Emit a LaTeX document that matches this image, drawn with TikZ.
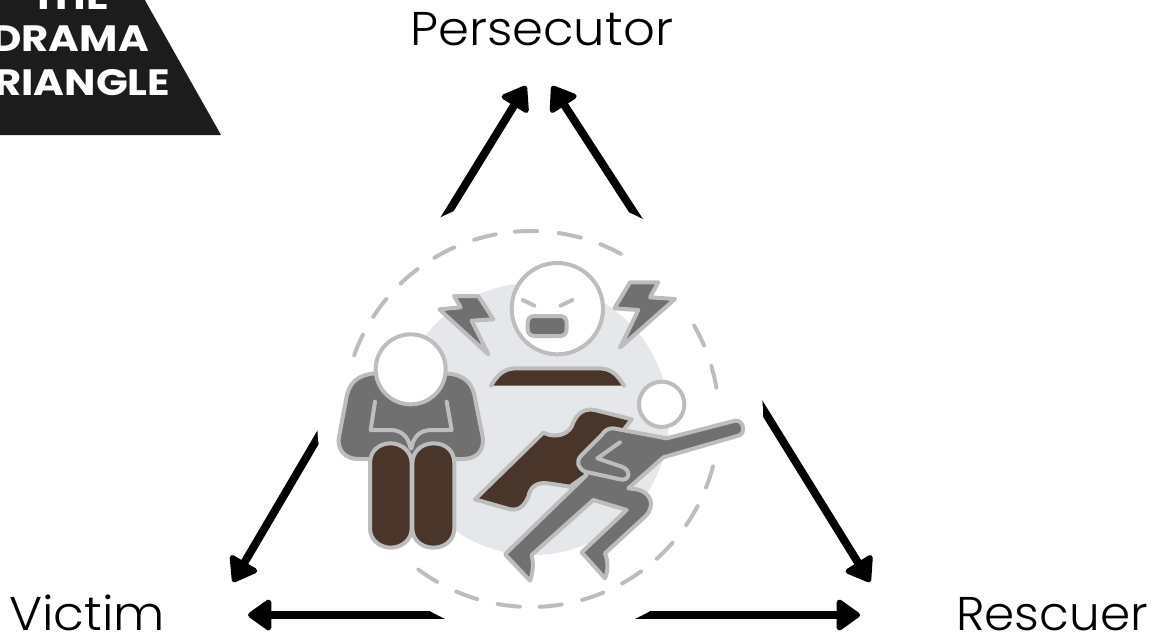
\documentclass[tikz,border=0pt]{standalone}
\usepackage{fontspec}
\setmainfont{Poppins}[UprightFont=* Light,BoldFont=* Bold]
\usetikzlibrary{arrows.meta}
\definecolor{edgegrey}{HTML}{BDBDBD}
\definecolor{bodygrey}{HTML}{707070}
\definecolor{capebrown}{HTML}{4A352B}
\definecolor{discgrey}{HTML}{E6E7EB}
\definecolor{bannerblack}{HTML}{1C1C1C}
\tikzset{
  flow/.style={line width=6pt,black,-{Triangle[length=19pt,width=26pt,round,line width=4pt]}},
  part/.style={draw=edgegrey,line width=3pt,line join=round,line cap=round},
  figbody/.style={part,fill=bodygrey},
  figbrown/.style={part,fill=capebrown},
  head/.style={part,fill=white},
  inner/.style={draw=edgegrey,line width=3pt,line join=round,line cap=round},
  rolelabel/.style={font=\fontsize{35.5}{35.5}\selectfont,text=black,inner sep=0pt,anchor=base west},
  bannerlabel/.style={font=\fontsize{27.5}{27.5}\bfseries\selectfont,text=white,inner sep=0pt,anchor=base,xscale=1.14}
}
\begin{document}
\begin{tikzpicture}[x=0.75pt,y=-0.75pt]
\useasboundingbox (0,0) rectangle (1156,635);
\clip (0,0) rectangle (1156,635);
% banner
\fill[bannerblack] (0,-5) -- (142,-5) -- (221,135) -- (0,135) -- cycle;
\node[bannerlabel] (the) at (70,10) {THE};
\node[bannerlabel] (drama) at (70,52) {DRAMA};
\node[bannerlabel] (triangle) at (70,95) {TRIANGLE};
% labels
\node[rolelabel,xscale=1.05] (persecutor) at (410,46) {Persecutor};
\node[rolelabel,xscale=1.06] (victim) at (9,630) {Victim};
\node[rolelabel,xscale=1.025] (rescuer) at (956,630) {Rescuer};
% connector ends
\coordinate (hub) at (540,417);
\coordinate (pl) at (526,86);
\coordinate (pr) at (552,86);
\coordinate (vt) at (233,582);
\coordinate (rt) at (870,582);
\coordinate (vb) at (248,615);
\coordinate (rb) at (860,615);
\coordinate (pls) at (430,242);
\coordinate (prs) at (655,245);
\coordinate (vts) at (340,400);
\coordinate (rts) at (745,380);
\coordinate (b1) at (470,615);
\coordinate (b2) at (610,615);
\draw[flow] (pls) -- (pl);
\draw[flow] (prs) -- (pr);
\draw[flow] (vts) -- (vt);
\draw[flow] (rts) -- (rt);
\draw[flow] (b1) -- (vb);
\draw[flow] (b2) -- (rb);
\fill[white] (hub) circle (223);
% disc and dashed ring
\fill[discgrey] (533,419) circle (136);
\foreach \a in {203.2,216.3,229.5,242.5,255.8,268.5,281.9,295.1,333.6,347,18,31,44.6,57.6,70.8,84,96.8,110,123.4}
  \draw[edgegrey,line width=3pt,line cap=round] (531,419) ++(\a-3.4:188) arc[start angle=\a-3.4,end angle=\a+3.4,radius=188];
% victim
\begin{scope}[shift={(320,220)},x=0.25pt,y=-0.25pt]
\draw[figbody] (165,460) .. controls (110,465) and (85,490) .. (78,540) -- (57,650) .. controls (50,695) and (80,717) .. (115,717) -- (430,717) .. controls (465,717) and (495,695) .. (488,650) -- (466,540) .. controls (460,490) and (435,465) .. (380,460) -- cycle;
\draw[inner] (165,545) -- (152,630) -- (210,630) .. controls (245,630) and (265,650) .. (272,685);
\draw[inner] (380,545) -- (395,630) -- (335,630) .. controls (300,630) and (280,650) .. (274,685);
\draw[figbrown] (150,730) .. controls (150,690) and (180,670) .. (212,670) .. controls (245,670) and (275,695) .. (275,730) -- (275,925) .. controls (275,960) and (245,983) .. (212,983) .. controls (180,983) and (150,960) .. (150,925) -- cycle;
\draw[figbrown] (277,730) .. controls (277,695) and (305,670) .. (340,670) .. controls (375,670) and (403,690) .. (403,730) -- (403,925) .. controls (403,960) and (375,983) .. (340,983) .. controls (305,983) and (277,960) .. (277,925) -- cycle;
\draw[head] (272,448) circle (105);
\end{scope}
% angry figure
\begin{scope}[shift={(430,220)},x=0.25pt,y=-0.25pt]
\draw[head] (382,266) circle (137);
\draw[inner] (278,240) -- (313,257);
\draw[inner] (427,240) -- (392,257);
\draw[figbody] (293,310) .. controls (293,295) and (300,288) .. (315,288) -- (388,288) .. controls (403,288) and (410,295) .. (410,310) -- (410,326) .. controls (410,341) and (403,348) .. (388,348) -- (315,348) .. controls (300,348) and (293,341) .. (293,326) -- cycle;
\draw[figbody] (72,228) -- (145,228) -- (190,298) -- (125,302) -- (175,403) -- (28,268) -- (92,262) -- cycle;
\draw[figbody] (600,187) -- (685,187) -- (660,232) -- (735,237) -- (570,383) -- (625,270) -- (553,265) -- cycle;
\fill[capebrown] (183,497) .. controls (205,460) and (225,445) .. (260,445) -- (505,445) .. controls (540,445) and (560,460) .. (582,497) -- cycle;
\draw[part] (183,497) .. controls (205,460) and (225,445) .. (260,445) -- (505,445) .. controls (540,445) and (560,460) .. (582,497);
\end{scope}
% hero
\begin{scope}[shift={(460,370)},x=0.25pt,y=-0.25pt]
\draw[head] (605,103) circle (68);
\draw[figbrown] (45,388) -- (250,188) .. controls (285,205) and (320,195) .. (335,170) .. controls (350,125) and (375,115) .. (405,120) -- (515,148) -- (400,300) -- (330,350) -- (265,340) .. controls (225,335) and (210,355) .. (205,380) .. controls (190,415) and (170,425) .. (140,415) -- cycle;
\draw[figbody] (460,175) -- (620,205) -- (825,152) .. controls (850,148) and (860,190) .. (835,197) -- (610,262) -- (505,355) -- (530,358) .. controls (570,365) and (590,405) .. (555,440) -- (435,550) .. controls (445,575) and (445,600) .. (435,625) -- (365,547) -- (500,420) -- (400,390) -- (215,555) .. controls (222,585) and (218,610) .. (210,632) -- (135,553) -- (380,315) -- (375,305) .. controls (355,295) and (345,275) .. (365,255) -- (425,195) .. controls (435,180) and (445,175) .. (460,175) -- cycle;
\draw[inner] (480,217) -- (412,265) -- (485,290) .. controls (515,300) and (510,335) .. (480,328) -- (375,305);
\end{scope}
\end{tikzpicture}
\end{document}
